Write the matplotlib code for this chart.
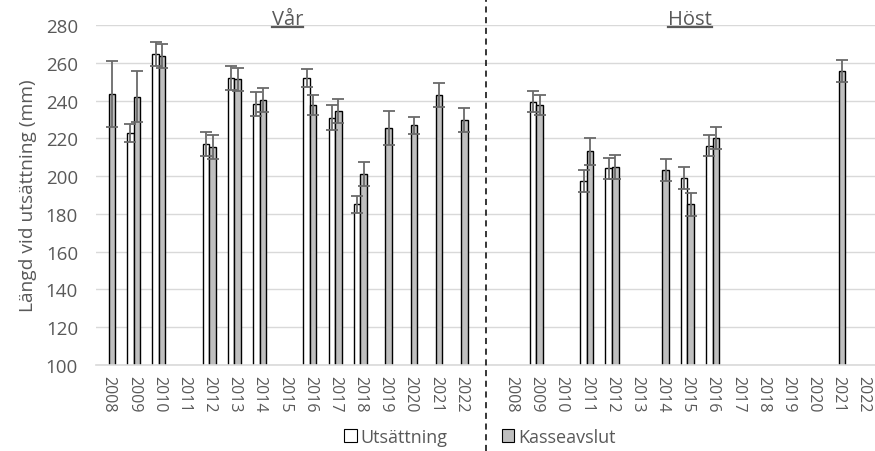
import numpy as np
import matplotlib
matplotlib.use("Agg")
import matplotlib.pyplot as plt
from matplotlib.lines import Line2D
from matplotlib.patches import Patch
import matplotlib.transforms as mtransforms

plt.rcParams['font.family'] = ['Open Sans', 'DejaVu Sans']

nan = np.nan
years = ["2008", "2009", "2010", "2011", "2012", "2013", "2014", "2015",
         "2016", "2017", "2018", "2019", "2020", "2021", "2022"]

# Vår (spring)
var_uts = [nan, 222.9, 264.6, nan, 217.0, 251.9, 238.2, nan,
           252.0, 231.0, 185.2, nan, nan, nan, nan]
var_uts_err = [nan, 4.7, 6.3, nan, 6.5, 6.4, 6.5, nan,
               4.7, 6.4, 4.5, nan, nan, nan, nan]
var_kas = [243.7, 242.0, 263.7, nan, 215.4, 251.2, 240.4, nan,
           237.7, 234.4, 201.1, 225.5, 226.9, 243.0, 229.8]
var_kas_err = [17.5, 13.4, 6.4, nan, 6.2, 6.0, 6.2, nan,
               5.5, 6.4, 6.3, 9.0, 4.5, 6.4, 6.3]

# Höst (autumn)
host_uts = [nan, 239.5, nan, 197.4, 204.1, nan, nan, 199.0,
            216.0, nan, nan, nan, nan, nan, nan]
host_uts_err = [nan, 5.7, nan, 5.6, 5.6, nan, nan, 5.6,
                5.6, nan, nan, nan, nan, nan, nan]
host_kas = [nan, 237.7, nan, 213.1, 204.8, nan, 203.1, 185.2,
            220.0, nan, nan, nan, nan, 255.6, nan]
host_kas_err = [nan, 5.5, nan, 7.3, 6.2, nan, 5.8, 6.1,
                5.8, nan, nan, nan, nan, 6.0, nan]

panel_titles = ["Vår", "Höst"]
series_names = ["Utsättning", "Kasseavslut"]

TEXT = "#595959"
GRID = "#d9d9d9"
GRAY = "#bfbfbf"
ERR = "#6a6a6a"

fig = plt.figure(figsize=(8.75, 4.52), dpi=100)
ax = fig.add_axes([96 / 875, 1 - 366 / 452, 1 - 96 / 875, (366 - 26) / 452])

n = len(years)
x_var = np.arange(n)
x_host = np.arange(n) + n + 1  # one empty slot between the seasons
uts = np.array(var_uts + [nan] + host_uts)
uts_err = np.array(var_uts_err + [nan] + host_uts_err)
kas = np.array(var_kas + [nan] + host_kas)
kas_err = np.array(var_kas_err + [nan] + host_kas_err)
xs = np.arange(2 * n + 1)

w = 0.26
off = 0.13
ekw = dict(fmt="none", ecolor=ERR, elinewidth=1.3, capsize=4.3, capthick=1.3, zorder=4)

ax.bar(xs - off, uts, width=w, color="white", edgecolor="black", linewidth=1.0, zorder=3)
ax.bar(xs + off, kas, width=w, color=GRAY, edgecolor="black", linewidth=1.0, zorder=3)
ax.errorbar(xs - off, uts, yerr=uts_err, **ekw)
ax.errorbar(xs + off, kas, yerr=kas_err, **ekw)

ax.set_ylim(100, 280)
ax.set_yticks(np.arange(100, 281, 20))
ax.set_xlim(-0.5, 30.45)
ticks = list(x_var) + list(x_host)
ax.set_xticks(ticks)
ax.set_xticklabels(years + years, rotation=-90, fontsize=11.5, color=TEXT)
ax.tick_params(axis="x", length=0, pad=7)
ax.tick_params(axis="y", length=0, pad=13, labelsize=13.5, labelcolor=TEXT)
ax.grid(axis="y", color=GRID, linewidth=1.0, zorder=0)
ax.set_axisbelow(True)
for s in ("top", "right", "left"):
    ax.spines[s].set_visible(False)
ax.spines["bottom"].set_color(GRID)
ax.spines["bottom"].set_linewidth(1.2)
ax.spines["bottom"].set_zorder(5)

ax.set_ylabel("Längd vid utsättning (mm)", fontsize=13.8, color=TEXT, labelpad=6)

# dashed separator between the seasons, spanning the whole figure height
blend = mtransforms.blended_transform_factory(ax.transData, fig.transFigure)
sep = Line2D([n, n], [0, 1], transform=blend, color="black", linewidth=1.1,
             linestyle=(0, (4, 3)), clip_on=False, zorder=6)
fig.add_artist(sep)

# underlined season titles
title_x = [np.mean(x_var) + 0.1, np.mean(x_host) + 0.1]
title_y = 1 - 25 / 452
title_texts = []
for tx, label in zip(title_x, panel_titles):
    t = ax.text(tx, title_y, label,
                transform=mtransforms.blended_transform_factory(ax.transData, fig.transFigure),
                ha="center", va="baseline", fontsize=14.5, color=TEXT)
    title_texts.append(t)

fig.canvas.draw()
renderer = fig.canvas.get_renderer()
for t in title_texts:
    bb = t.get_window_extent(renderer)
    fx0, fx1 = bb.x0 / fig.bbox.width, bb.x1 / fig.bbox.width
    fy = (452 - 27.5) / 452
    fig.add_artist(Line2D([fx0, fx1], [fy, fy], transform=fig.transFigure,
                          color=TEXT, linewidth=1.6))

handles = [Patch(facecolor="white", edgecolor="black", linewidth=0.8),
           Patch(facecolor=GRAY, edgecolor="black", linewidth=0.8)]
fig.legend(handles, series_names, loc="center", bbox_to_anchor=(480 / 875, 1 - 438 / 452),
           ncol=2, frameon=False, fontsize=13, labelcolor=TEXT, handlelength=0.7,
           handleheight=0.7, handletextpad=0.2, columnspacing=3.0)

fig.savefig("out.png", dpi=100)
